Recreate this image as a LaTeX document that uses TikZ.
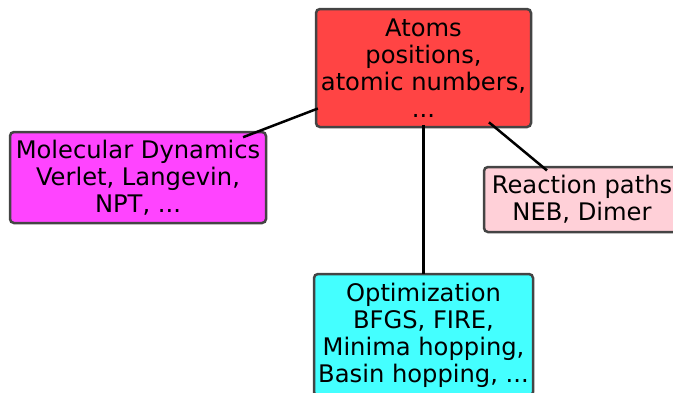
\documentclass[tikz,border=0pt]{standalone}
\usepackage{fontspec}
\setmainfont{DejaVu Sans}
\usetikzlibrary{calc}
\definecolor{cred}{RGB}{255,68,68}
\definecolor{cmag}{RGB}{255,68,255}
\definecolor{cpink}{RGB}{255,208,216}
\definecolor{ccyan}{RGB}{68,255,255}
\definecolor{cborder}{RGB}{68,68,68}
\tikzset{
  box/.style={draw=cborder, line width=2.5pt, rounded corners=4pt, align=center,
    inner sep=0pt, font=\fontsize{24.2}{27}\selectfont},
  link/.style={draw=black, line width=2.5pt}
}
\begin{document}
\begin{tikzpicture}[x=1pt,y=1pt]
\clip (0,0) rectangle (673,-392);
\useasboundingbox (0,0) rectangle (673,-392);
\node[box, fill=cred, minimum width=215pt, minimum height=118pt] (atoms) at (423.5,-68)
  {Atoms\\positions,\\atomic numbers,\\...};
\node[box, fill=cmag, minimum width=256pt, minimum height=91pt] (md) at (138,-177.5)
  {Molecular Dynamics\\Verlet, Langevin,\\NPT, ...};
\node[box, fill=cpink, minimum width=196pt, minimum height=65pt] (rp) at (582,-199.5)
  {Reaction paths\\NEB, Dimer};
\node[box, fill=ccyan, minimum width=219pt, minimum height=122pt] (opt) at (423.5,-335)
  {Optimization\\BFGS, FIRE,\\Minima hopping,\\Basin hopping, ...};
\draw[link] ($(atoms.center)!0.37!(md.center)$) -- ($(atoms.center)!0.632!(md.center)$);
\draw[link] ($(atoms.center)!0.213!(opt.center)$) -- ($(atoms.center)!0.77!(opt.center)$);
\draw[link] ($(atoms.center)!0.413!(rp.center)$) -- ($(atoms.center)!0.779!(rp.center)$);
\end{tikzpicture}
\end{document}
